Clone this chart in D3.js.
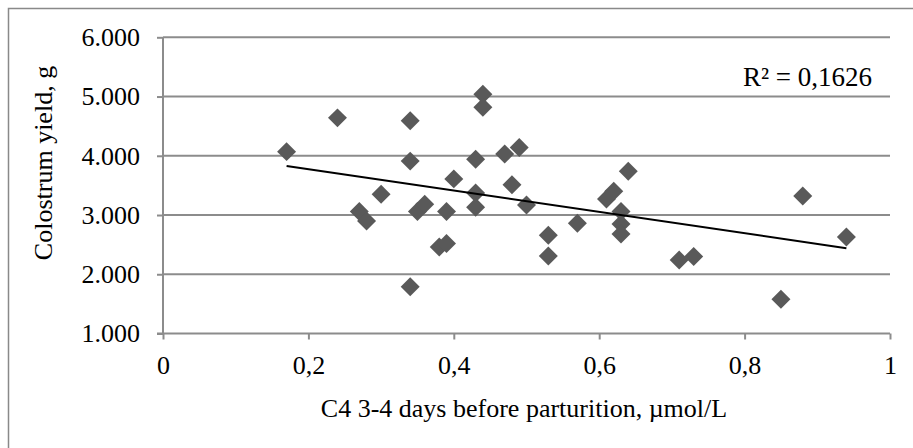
<!DOCTYPE html>
<html>
<head>
<meta charset="utf-8">
<script src="https://cdn.jsdelivr.net/npm/d3@7"></script>
<style>
  body { margin: 0; background: #fff; }
  text { font-family: "Liberation Serif", "Times New Roman", serif; fill: #000; }
</style>
</head>
<body>
<svg class="chart"></svg>
<script>
// data
var c4 = [0.17, 0.24, 0.34, 0.34, 0.34, 0.30, 0.27, 0.28, 0.35, 0.36, 0.39, 0.38, 0.39,
          0.40, 0.43, 0.43, 0.43, 0.44, 0.44, 0.47, 0.49, 0.48, 0.50, 0.53, 0.53,
          0.57, 0.64, 0.62, 0.61, 0.63, 0.63, 0.63, 0.71, 0.73, 0.88, 0.85, 0.94];
var yieldG = [4070, 4640, 4590, 3910, 1790, 3350, 3060, 2900, 3060, 3180, 3060, 2460, 2520,
              3610, 3940, 3370, 3130, 5040, 4820, 4030, 4140, 3510, 3170, 2660, 2310,
              2860, 3740, 3400, 3270, 3060, 2850, 2680, 2240, 2300, 3320, 1580, 2630];
var xTicks = [0, 0.2, 0.4, 0.6, 0.8, 1];
var yTicks = [1000, 2000, 3000, 4000, 5000, 6000];
var r2Label = "R\u00b2 = 0,1626";

var W = 913, H = 448;
var margin = {top: 37.3, left: 163},
    width = 890 - margin.left,
    height = 333.5 - margin.top;

var loc = d3.formatLocale({decimal: ",", thousands: ".", grouping: [3], currency: ["", ""]});
var fmtY = loc.format(",.0f");
var fmtX = loc.format("");

var x = d3.scaleLinear().domain([0, 1]).range([0, width]);
var y = d3.scaleLinear().domain([1000, 6000]).range([height, 0]);

var svg = d3.select(".chart").attr("width", W).attr("height", H);

// outer frame (right and bottom edges fall outside the picture)
svg.append("rect")
    .attr("x", 8.5).attr("y", 8.5)
    .attr("width", 920).attr("height", 450)
    .attr("fill", "none").attr("stroke", "#898989").attr("stroke-width", 1.5);

var chart = svg.append("g")
    .attr("transform", "translate(" + margin.left + "," + margin.top + ")");

// gridlines
chart.selectAll(".grid")
    .data(yTicks.filter(function(d) { return d > 1000; }))
  .enter().append("line")
    .attr("x1", 0).attr("x2", width)
    .attr("y1", function(d) { return y(d); })
    .attr("y2", function(d) { return y(d); })
    .attr("stroke", "#8c8c8c").attr("stroke-width", 2);

// y axis
var yAxis = chart.append("g")
    .call(d3.axisLeft(y).tickValues(yTicks).tickFormat(fmtY).tickSize(6).tickPadding(17));
// x axis
var xAxis = chart.append("g")
    .attr("transform", "translate(0," + height + ")")
    .call(d3.axisBottom(x).tickValues(xTicks).tickFormat(fmtX).tickSize(6).tickPadding(16));

[yAxis, xAxis].forEach(function(g) {
  g.select(".domain").attr("stroke", "#8c8c8c").attr("stroke-width", 2);
  g.selectAll(".tick line").attr("stroke", "#8c8c8c").attr("stroke-width", 2);
  g.selectAll("text").attr("font-size", 26).attr("fill", "#000");
});
yAxis.select(".domain").attr("d", "M0," + height + "V0");
xAxis.select(".domain").attr("d", "M-6,0H" + width);

// points
var pts = c4.map(function(d, i) { return {x: d, y: yieldG[i]}; });
chart.selectAll(".pt")
    .data(pts)
  .enter().append("path")
    .attr("d", d3.symbol().type(d3.symbolSquare).size(180))
    .attr("transform", function(d) { return "translate(" + x(d.x) + "," + y(d.y) + ") rotate(45)"; })
    .attr("fill", "#595959");

// linear trendline (least squares)
var mx = d3.mean(c4), my = d3.mean(yieldG);
var slope = d3.sum(c4, function(d, i) { return (d - mx) * (yieldG[i] - my); }) /
            d3.sum(c4, function(d) { return (d - mx) * (d - mx); });
var icpt = my - slope * mx;
var x0 = d3.min(c4), x1 = d3.max(c4);
chart.append("line")
    .attr("x1", x(x0)).attr("y1", y(icpt + slope * x0))
    .attr("x2", x(x1)).attr("y2", y(icpt + slope * x1))
    .attr("stroke", "#000").attr("stroke-width", 2);

// R² label
svg.append("text")
    .attr("x", 872).attr("y", 86)
    .attr("text-anchor", "end")
    .attr("font-size", 27)
    .text(r2Label);

// axis titles
svg.append("text")
    .attr("x", 524).attr("y", 417)
    .attr("text-anchor", "middle")
    .attr("font-size", 26)
    .text("C4 3-4 days before parturition, \u00b5mol/L");

svg.append("text")
    .attr("transform", "translate(52,163) rotate(-90)")
    .attr("text-anchor", "middle")
    .attr("font-size", 26)
    .text("Colostrum yield, g");
</script>
</body>
</html>
